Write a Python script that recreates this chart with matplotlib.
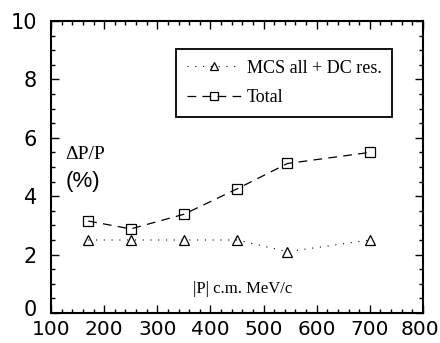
import matplotlib
matplotlib.use("Agg")
import matplotlib.pyplot as plt
import matplotlib.transforms as mtransforms
from matplotlib.ticker import MultipleLocator

momentum = [170, 250, 350, 450, 545, 700]
mcs_dc = [2.5, 2.5, 2.5, 2.5, 2.1, 2.5]
total = [3.15, 2.88, 3.38, 4.25, 5.12, 5.5]
xticks = [100, 200, 300, 400, 500, 600, 700, 800]
yticks = [0, 2, 4, 6, 8, 10]

fig = plt.figure(figsize=(4.4, 3.43), dpi=100)
ax = fig.add_axes([51/440, 1-313/343, (423-51)/440, (313-21)/343])

ax.plot(momentum, mcs_dc, linestyle=(0, (1, 6)), color="black", lw=0.8,
        marker="^", markersize=7, markerfacecolor="none", markeredgecolor="black",
        markeredgewidth=0.9, label="MCS all + DC res.")
ax.plot(momentum, total, linestyle=(0, (7, 5)), color="black", lw=0.9,
        marker="s", markersize=7, markerfacecolor="none", markeredgecolor="black",
        markeredgewidth=0.9, label="Total")

ax.set_xlim(100, 800)
ax.set_ylim(0, 10)
ax.set_xticks(xticks)
ax.set_yticks(yticks)
ax.xaxis.set_minor_locator(MultipleLocator(20))
ax.yaxis.set_minor_locator(MultipleLocator(0.5))
ax.tick_params(which="both", direction="in", top=True, right=True, width=1)
ax.tick_params(which="major", length=6)
ax.tick_params(which="minor", length=3)
ax.tick_params(axis="x", which="major", labelsize=14.5, pad=5)
ax.tick_params(axis="y", which="major", labelsize=15, pad=10)
for lab in ax.get_xticklabels() + ax.get_yticklabels():
    lab.set_fontfamily("DejaVu Sans")
for s in ax.spines.values():
    s.set_linewidth(1.5)

# keep the last x label inside the image edge
last = ax.get_xticklabels()[-1]
last.set_transform(last.get_transform() +
                   mtransforms.ScaledTranslation(-3/100, 0, fig.dpi_scale_trans))
# lift the "0" y label slightly, as in the reference
first = ax.get_yticklabels()[0]
first.set_transform(first.get_transform() +
                    mtransforms.ScaledTranslation(0, 5/100, fig.dpi_scale_trans))

ax.text(0.038, 0.515, "ΔP/P", transform=ax.transAxes, fontsize=14,
        family="Liberation Serif", va="bottom", ha="left")
ax.text(0.038, 0.415, "(%)", transform=ax.transAxes, fontsize=16,
        family="Liberation Sans", va="bottom", ha="left")
ax.text(0.516, 0.055, "|P| c.m. MeV/c", transform=ax.transAxes, fontsize=12,
        family="Liberation Serif", va="bottom", ha="center")

leg = ax.legend(loc="upper right", bbox_to_anchor=(0.917, 0.905), frameon=True,
                fancybox=False, edgecolor="black", framealpha=1,
                prop={"family": "Liberation Serif", "size": 13},
                handlelength=3.0, handletextpad=0.3, borderpad=0.6,
                labelspacing=0.7, markerscale=0.8, borderaxespad=0)
leg.get_frame().set_linewidth(1.3)

fig.savefig("out.png", dpi=100)
